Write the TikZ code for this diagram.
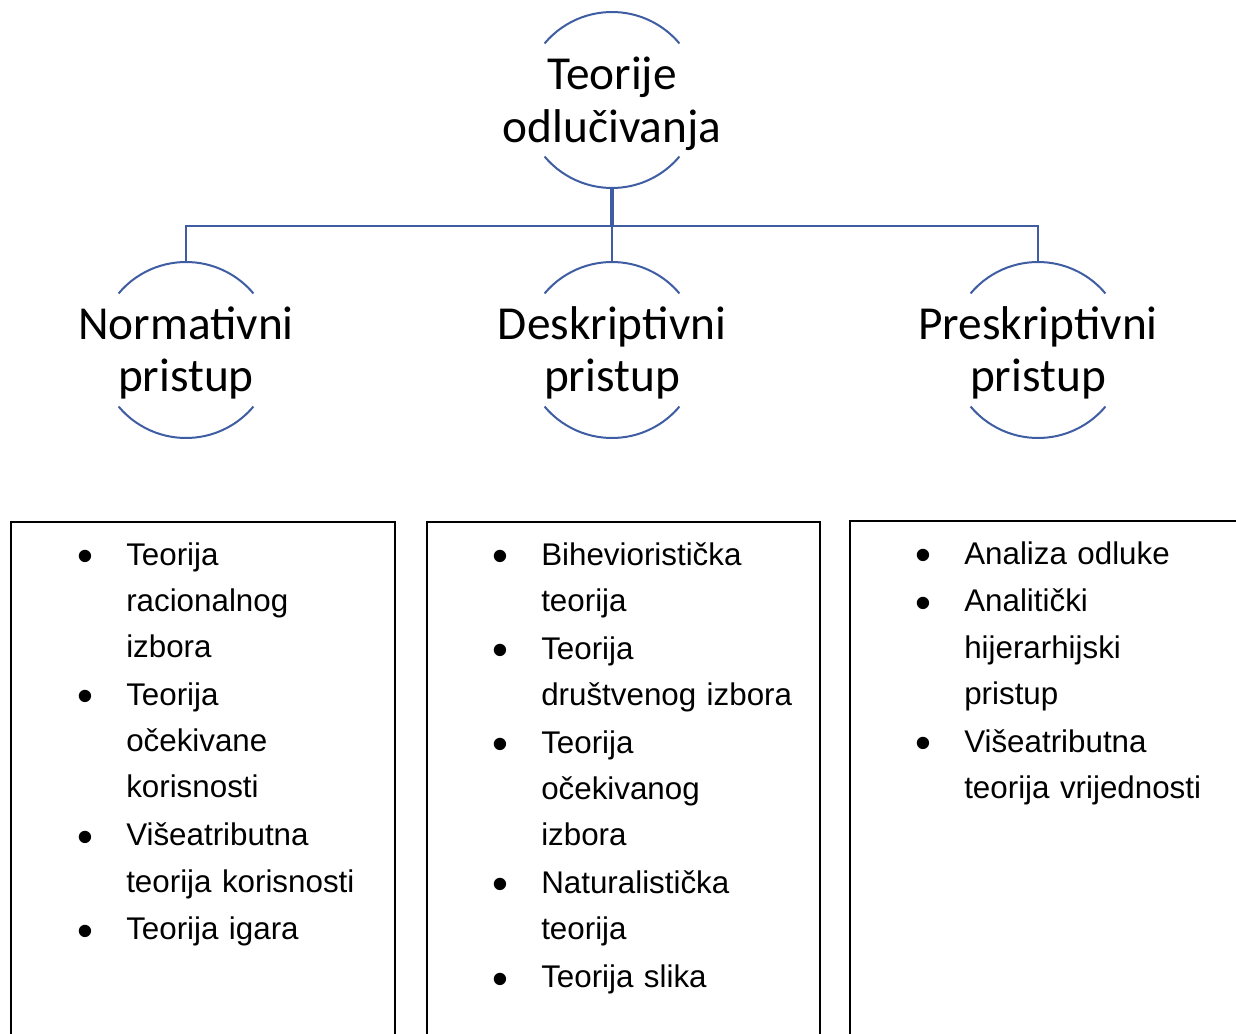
\documentclass[tikz,border=0pt]{standalone}
\usepackage{fontspec}
\usepackage{graphicx}
\setmainfont{Liberation Sans}
\newfontfamily\carlito{Carlito}
\definecolor{smartblue}{RGB}{63,93,163}
\newcommand\bul{\leavevmode\llap{\makebox[36.75pt][l]{\raisebox{-0.2em}{\scalebox{1.45}{•}}}}}
\tikzset{
  circ/.style={draw=none, inner sep=0pt, align=center,
    font=\carlito\fontsize{35.5}{39.5}\selectfont},
  arcline/.style={draw=smartblue, line width=1.5pt},
  conn/.style={draw=smartblue, line width=1.6pt},
  connthick/.style={draw=smartblue, line width=2.8pt},
  listbox/.style={draw=black, line width=1.2pt, rectangle, anchor=north west, inner sep=0pt,
    minimum height=600pt},
  listtext/.style={anchor=base west, text width=215pt, align=left, inner sep=0pt,
    font=\fontsize{23.5}{34.7}\selectfont},
}
\begin{document}
\begin{tikzpicture}[x=0.75pt, y=-0.75pt]
\useasboundingbox (0,0) rectangle (1236,1034);
\clip (0,0) rectangle (1236,1034);
\fill[white] (0,0) rectangle (1236,1034);

% circles (text only; the circle outline is drawn as two arcs)
\node[circ] (top) at (612,104) {Teorije\\odlučivanja};
\node[circ] (n1) at (186,353) {Normativni\\pristup};
\node[circ] (n2) at (612,353) {Deskriptivni\\pristup};
\node[circ] (n3) at (1038,353) {Preskriptivni\\pristup};

\coordinate (top-c) at (612,100);
\coordinate (n1-c) at (186,350);
\coordinate (n2-c) at (612,350);
\coordinate (n3-c) at (1038,350);

\foreach \n in {top,n1,n2,n3}{
  \draw[arcline, shift={(\n-c)}] (140:66pt) arc[start angle=140, end angle=40, radius=66pt];
  \draw[arcline, shift={(\n-c)}] (220:66pt) arc[start angle=220, end angle=320, radius=66pt];
  \coordinate (\n-n) at ([yshift=66pt]\n-c);
  \coordinate (\n-s) at ([yshift=-66pt]\n-c);
}

% connectors
\coordinate (bus) at (612,226);
\draw[connthick] (top-s) -- (bus);
\draw[conn] (bus) -| (n1-n);
\draw[conn] (bus) -- (n2-n);
\draw[conn] (bus) -| (n3-n);

% boxes
\node[listbox, minimum width=288pt] (b1) at (10,521) {};
\node[listbox, minimum width=294.75pt] (b2) at (426,521) {};
\node[listbox, minimum width=400pt] (b3) at (849,520) {};

\node[listtext] (t1) at (126,565) {\bul Teorija\\racionalnog\\izbora\\[1.2pt]
\bul Teorija\\očekivane\\korisnosti\\[1.2pt]
\bul Višeatributna\\teorija korisnosti\\[1.2pt]
\bul Teorija igara};

\node[listtext] (t2) at (541,565) {\bul Bihevioristička\\teorija\\[1.2pt]
\bul Teorija\\društvenog izbora\\[1.2pt]
\bul Teorija\\očekivanog\\izbora\\[1.2pt]
\bul Naturalistička\\teorija\\[1.2pt]
\bul Teorija slika};

\node[listtext] (t3) at (964,564) {\bul Analiza odluke\\[1.2pt]
\bul Analitički\\hijerarhijski\\pristup\\[1.2pt]
\bul Višeatributna\\teorija vrijednosti};
\end{tikzpicture}
\end{document}
